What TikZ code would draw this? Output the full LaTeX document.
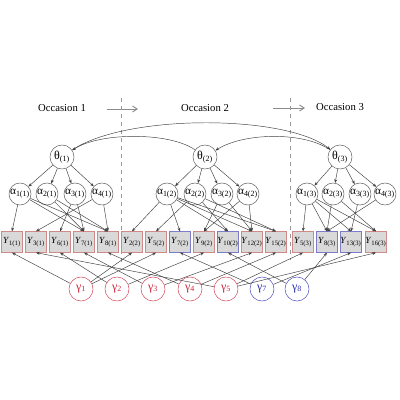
\documentclass[tikz,border=0pt]{standalone}
\usepackage{fontspec}
\setmainfont{Liberation Serif}
\usetikzlibrary{arrows.meta}
\definecolor{redb}{HTML}{D08A8A}
\definecolor{blueb}{HTML}{7C7CC8}
\definecolor{gred}{HTML}{CC2238}
\definecolor{gblue}{HTML}{2A2AB0}
\definecolor{boxfill}{HTML}{D9D9D9}
\definecolor{edge}{HTML}{404040}
\tikzset{
  theta/.style={circle,draw=gray!80!black,line width=0.4pt,minimum size=18pt,inner sep=0pt,font=\fontsize{9}{10}\selectfont},
  alpha/.style={circle,draw=gray!80!black,line width=0.4pt,minimum size=16.5pt,inner sep=0pt,font=\fontsize{8.5}{10}\selectfont},
  obsred/.style={rectangle,draw=redb,fill=boxfill,line width=0.5pt,minimum width=16pt,minimum height=15.5pt,inner sep=0pt,font=\fontsize{7}{8}\selectfont},
  obsblue/.style={obsred,draw=blueb},
  gamred/.style={circle,draw=gred!80,line width=0.4pt,minimum size=18pt,inner sep=0pt,text=gred,font=\fontsize{9}{10}\selectfont},
  gamblue/.style={gamred,draw=gblue!80,text=gblue},
  conn/.style={draw=edge,line width=0.35pt,-{Stealth[length=2.8pt,width=2.2pt]}},
  occ/.style={font=\fontsize{8}{10}\selectfont},
  occarrow/.style={draw=gray!90,line width=0.7pt,-{Straight Barb[length=3.5pt,width=4.5pt]}},
  divider/.style={draw=gray!80,dashed,line width=0.5pt}
}
\begin{document}
\begin{tikzpicture}[x=0.75pt,y=-0.75pt]
\useasboundingbox (0,0) rectangle (400,400);
% occasion labels
\node[occ] (o1) at (62,108) {Occasion 1};
\node[occ] (o2) at (205,108) {Occasion 2};
\node[occ] (o3) at (340,107) {Occasion 3};
\coordinate (a1s) at (107,109); \coordinate (a1e) at (138,109);
\coordinate (a2s) at (273,108); \coordinate (a2e) at (305,108);
\draw[occarrow] (a1s) -- (a1e);
\draw[occarrow] (a2s) -- (a2e);
% dividers
\coordinate (d1t) at (121,98); \coordinate (d1b) at (121,262);
\coordinate (d2t) at (290,98); \coordinate (d2b) at (290,260);
\draw[divider] (d1t) -- (d1b);
\draw[divider] (d2t) -- (d2b);
% thetas
\node[theta] (t1) at (62,157) {θ\textsubscript{(1)}};
\node[theta] (t2) at (205,157) {θ\textsubscript{(2)}};
\node[theta] (t3) at (340,157) {θ\textsubscript{(3)}};
\draw[conn] (t1) .. controls (125,114) and (285,114) .. (t3);
\draw[conn] (t2) .. controls (170,132) and (100,132) .. (t1);
\draw[conn] (t3) .. controls (305,132) and (245,132) .. (t2);
% alphas
\foreach \i/\x in {1/20,2/47,3/75,4/102}{\node[alpha] (a\i1) at (\x,194) {α\textsubscript{\i(1)}};}
\foreach \i/\x in {1/167,2/195,3/222,4/248}{\node[alpha] (a\i2) at (\x,194) {α\textsubscript{\i(2)}};}
\foreach \i/\x in {1/307,2/333,3/360,4/385}{\node[alpha] (a\i3) at (\x,194) {α\textsubscript{\i(3)}};}
\foreach \o in {1,2,3}{\foreach \i in {1,2,3,4}{\draw[conn] (t\o) -- (a\i\o);}}
% observed
\node[obsred]  (y11)  at (12,242)  {\textit{Y}\textsubscript{1(1)}};
\node[obsred]  (y31)  at (36,242)  {\textit{Y}\textsubscript{3(1)}};
\node[obsred]  (y61)  at (60,242)  {\textit{Y}\textsubscript{6(1)}};
\node[obsred]  (y71)  at (84,242)  {\textit{Y}\textsubscript{7(1)}};
\node[obsred]  (y81)  at (108,242) {\textit{Y}\textsubscript{8(1)}};
\node[obsred]  (y22)  at (132,242) {\textit{Y}\textsubscript{2(2)}};
\node[obsred]  (y52)  at (156,242) {\textit{Y}\textsubscript{5(2)}};
\node[obsblue] (y72)  at (180,242) {\textit{Y}\textsubscript{7(2)}};
\node[obsred]  (y92)  at (204,242) {\textit{Y}\textsubscript{9(2)}};
\node[obsblue] (y102) at (228,242) {\textit{Y}\textsubscript{10(2)}};
\node[obsred]  (y122) at (252,242) {\textit{Y}\textsubscript{12(2)}};
\node[obsred]  (y152) at (276,242) {\textit{Y}\textsubscript{15(2)}};
\node[obsred]  (y53)  at (303,242) {\textit{Y}\textsubscript{5(3)}};
\node[obsblue] (y83)  at (327,242) {\textit{Y}\textsubscript{8(3)}};
\node[obsblue] (y133) at (351,242) {\textit{Y}\textsubscript{13(3)}};
\node[obsred]  (y163) at (376,242) {\textit{Y}\textsubscript{16(3)}};
% alpha -> Y
\foreach \a/\y in {a11/y11,a11/y71,a11/y81,a21/y71,a21/y81,a31/y61,a31/y71,a41/y31,a41/y81,
  a12/y22,a12/y72,a12/y102,a12/y122,a12/y152,a22/y52,a22/y102,a22/y152,a32/y92,a32/y122,a42/y92,a42/y122,
  a13/y53,a13/y83,a13/y133,a13/y163,a23/y83,a23/y163,a33/y133,a43/y83}{\draw[conn] (\a) -- (\y.north);}
% gammas
\node[gamred]  (g1) at (81,289)  {γ\textsubscript{1}};
\node[gamred]  (g2) at (117,289) {γ\textsubscript{2}};
\node[gamred]  (g3) at (153,289) {γ\textsubscript{3}};
\node[gamred]  (g4) at (190,289) {γ\textsubscript{4}};
\node[gamred]  (g5) at (226,289) {γ\textsubscript{5}};
\node[gamblue] (g7) at (262,289) {γ\textsubscript{7}};
\node[gamblue] (g8) at (297,289) {γ\textsubscript{8}};
\foreach \g/\y in {g1/y11,g1/y22,g1/y52,g2/y61,g2/y92,g3/y71,g3/y122,g4/y81,g4/y152,
  g5/y31,g5/y53,g5/y163,g7/y72,g7/y133,g8/y102,g8/y83}{\draw[conn] (\g) -- (\y.south);}
\end{tikzpicture}
\end{document}
